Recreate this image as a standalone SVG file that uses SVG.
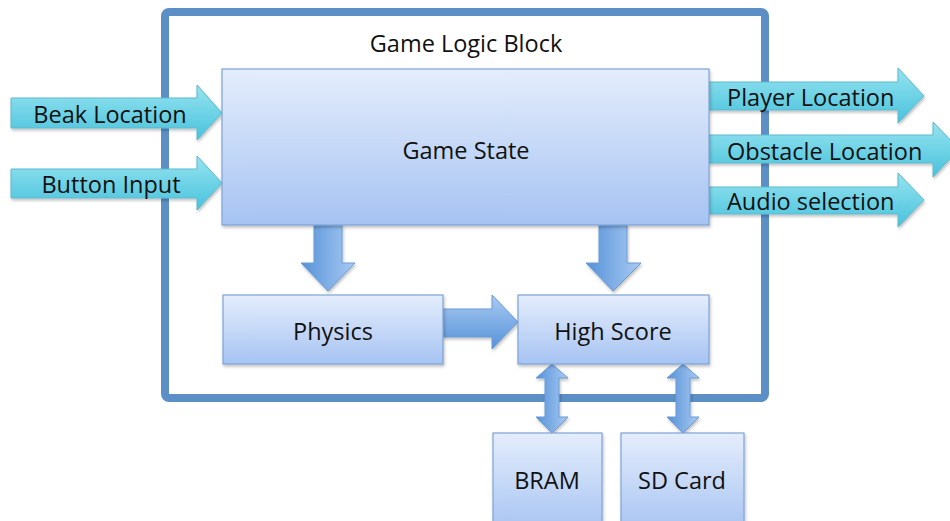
<svg xmlns="http://www.w3.org/2000/svg" width="950" height="521" viewBox="0 0 950 521">
  <defs>
    <linearGradient id="boxFill" x1="0" y1="0" x2="0" y2="1">
      <stop offset="0" stop-color="#e4edfc"/>
      <stop offset="1" stop-color="#a6c3f2"/>
    </linearGradient>
    <linearGradient id="cyanFill" x1="0" y1="0" x2="0" y2="1">
      <stop offset="0" stop-color="#96e4f0"/>
      <stop offset="1" stop-color="#48c2dc"/>
    </linearGradient>
    <linearGradient id="blueV" x1="0" y1="0" x2="1" y2="0">
      <stop offset="0" stop-color="#5592d8"/>
      <stop offset="1" stop-color="#a9caf3"/>
    </linearGradient>
    <linearGradient id="blueH" x1="0" y1="0" x2="0" y2="1">
      <stop offset="0" stop-color="#a9caf3"/>
      <stop offset="1" stop-color="#5592d8"/>
    </linearGradient>
    <filter id="shadow" x="-10%" y="-10%" width="120%" height="130%">
      <feDropShadow dx="1" dy="2" stdDeviation="1.5" flood-color="#000" flood-opacity="0.25"/>
    </filter>
  </defs>
  <style>
    .box { fill: url(#boxFill); stroke: #7da3d8; stroke-width: 1.2; filter: url(#shadow); }
    .cyan { fill: url(#cyanFill); stroke: #5cb9cf; stroke-width: 1; filter: url(#shadow); }
    .bv { fill: url(#blueV); stroke: #6a9bd6; stroke-width: 1; filter: url(#shadow); }
    .bh { fill: url(#blueH); stroke: #6a9bd6; stroke-width: 1; filter: url(#shadow); }
    text { font-family: "Open Sans", "Liberation Sans", sans-serif; font-size: 23.5px; fill: #111; }
    .c { text-anchor: middle; }
  </style>

  <rect width="950" height="521" fill="#ffffff"/>

  <!-- outer block frame -->
  <g id="game-logic-block">
    <rect x="165" y="12" width="600" height="386" rx="4" fill="none" stroke="#5b8fc6" stroke-width="8"/>
    <text class="c" x="466" y="52">Game Logic Block</text>
  </g>

  <g id="connectors">
    <!-- inputs -->
    <polygon class="cyan" points="11,98 197,98 197,85 222,113 197,140 197,128 11,128"/>
    <polygon class="cyan" points="11,169 197,169 197,156 222,183 197,210 197,198 11,198"/>
    <!-- outputs -->
    <polygon class="cyan" points="709,82 898,82 898,68 924,96 898,123 898,110 709,110"/>
    <polygon class="cyan" points="709,135 933,135 933,122 959,149 933,177 933,163 709,163"/>
    <polygon class="cyan" points="709,187 898,187 898,173 924,200 898,227 898,214 709,214"/>
    <!-- game state to physics / high score -->
    <polygon class="bv" points="314,225 342,225 342,263 355,263 328,291 301,263 314,263"/>
    <polygon class="bv" points="599,225 627,225 627,263 641,263 613,291 586,263 599,263"/>
    <!-- physics to high score -->
    <polygon class="bh" points="443,309 492,309 492,295 518,322 492,349 492,337 443,337"/>
    <!-- high score to memories (two-way) -->
    <polygon class="bv" points="552,364 568,378 559,378 559,417 568,417 552,433 536,417 545,417 545,378 536,378"/>
    <polygon class="bv" points="683,364 699,378 690,378 690,417 699,417 683,433 667,417 676,417 676,378 667,378"/>
  </g>

  <g id="label-beak"><text class="c" x="110" y="123">Beak Location</text></g>
  <g id="label-button"><text class="c" x="111" y="193">Button Input</text></g>
  <g id="label-player"><text x="727" y="106">Player Location</text></g>
  <g id="label-obstacle"><text x="727" y="160">Obstacle Location</text></g>
  <g id="label-audio"><text x="727" y="210">Audio selection</text></g>

  <g id="game-state">
    <rect class="box" x="222" y="69" width="487" height="156"/>
    <text class="c" x="466" y="159">Game State</text>
  </g>

  <g id="physics">
    <rect class="box" x="223" y="295" width="220" height="69"/>
    <text class="c" x="333" y="340">Physics</text>
  </g>

  <g id="high-score">
    <rect class="box" x="518" y="295" width="191" height="69"/>
    <text class="c" x="613" y="340">High Score</text>
  </g>

  <g id="bram">
    <rect class="box" x="493" y="433" width="109" height="100"/>
    <text class="c" x="547" y="489">BRAM</text>
  </g>

  <g id="sd-card">
    <rect class="box" x="621" y="433" width="123" height="100"/>
    <text class="c" x="682" y="489">SD Card</text>
  </g>
</svg>
